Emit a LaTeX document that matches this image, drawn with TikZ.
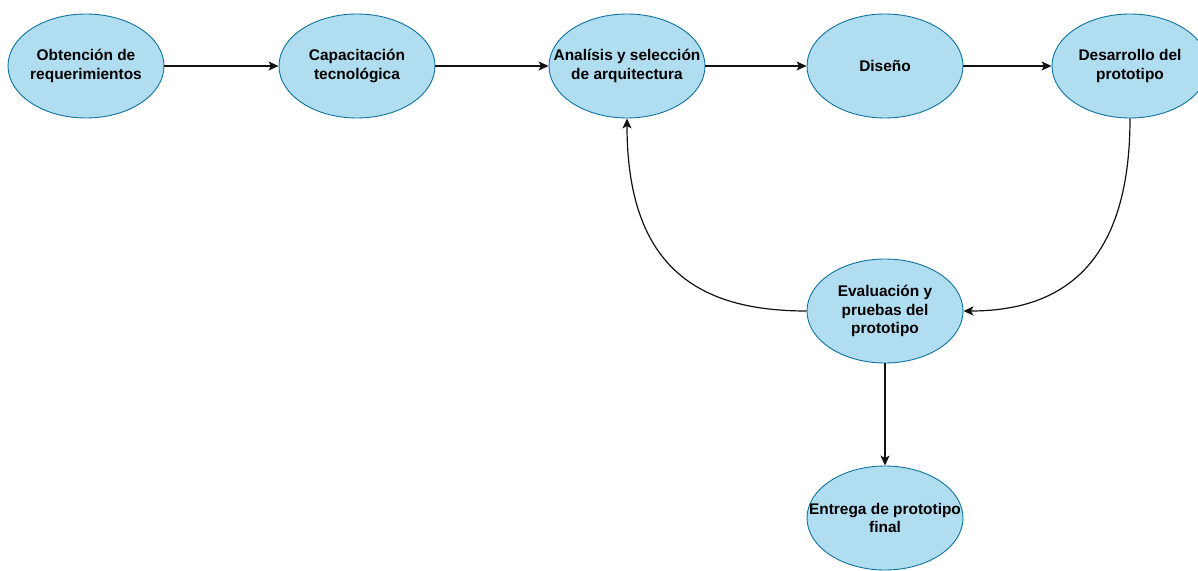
\documentclass[tikz,border=0pt]{standalone}
\usepackage{fontspec}
\setmainfont{Liberation Sans}
\usetikzlibrary{shapes.geometric,arrows.meta}
\definecolor{phasefill}{HTML}{B1DDF0}
\definecolor{phaseline}{HTML}{10739E}
\definecolor{flowline}{HTML}{111111}
\begin{document}
\begin{tikzpicture}[x=1bp,y=-1bp,
  phase/.style={ellipse,draw=phaseline,fill=phasefill,line width=0.9bp,
    minimum width=156bp,minimum height=104bp,inner sep=0pt},
  phasetext/.style={align=center,font=\bfseries\fontsize{15.5}{18.5}\selectfont,
    text=black,inner sep=0pt},
  flow/.style={draw=flowline,line width=1.2bp,
    -{Stealth[length=10bp,width=9bp,inset=2.5bp]}}]
\useasboundingbox (0,0) rectangle (1198,571);

% Phases of the process
\node[phase] (obt) at (86,66) {};
\node[phasetext] (obtT) at (obt.center) {Obtención de\\requerimientos};
\node[phase] (cap) at (357,66) {};
\node[phasetext] (capT) at (cap.center) {Capacitación\\tecnológica};
\node[phase] (ana) at (627,66) {};
\node[phasetext] (anaT) at (ana.center) {Analísis y selección\\de arquitectura};
\node[phase] (dis) at (885,66) {};
\node[phasetext] (disT) at (dis.center) {Diseño};
\node[phase] (des) at (1130,66) {};
\node[phasetext] (desT) at (des.center) {Desarrollo del\\prototipo};
\node[phase] (eva) at (885,311) {};
\node[phasetext] (evaT) at (eva.center) {Evaluación y\\pruebas del\\prototipo};
\node[phase] (ent) at (885,518) {};
\node[phasetext] (entT) at (ent.center) {Entrega de prototipo\\final};

% Main sequence
\draw[flow] (obt.east) -- (cap.west);
\draw[flow] (cap.east) -- (ana.west);
\draw[flow] (ana.east) -- (dis.west);
\draw[flow] (dis.east) -- (des.west);

% Evaluation loop
\draw[flow] (des.south) .. controls +(0,152) and +(93,0) .. (eva.east);
\draw[flow] (eva.west) .. controls +(-105,0) and +(0,152) .. (ana.south);

% Final delivery
\draw[flow] (eva.south) -- (ent.north);
\end{tikzpicture}
\end{document}
